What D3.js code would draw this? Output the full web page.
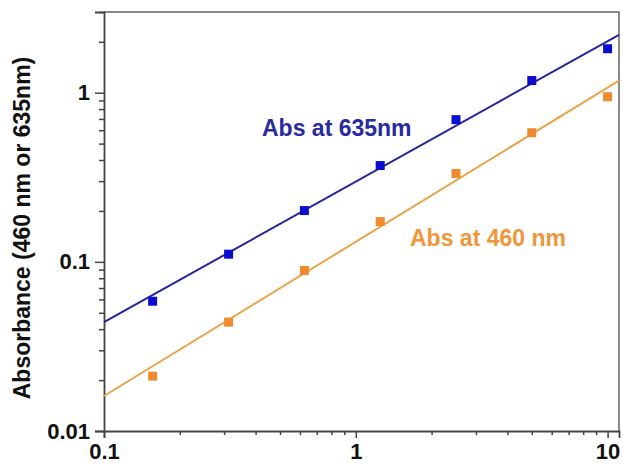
<!DOCTYPE html>
<html><head><meta charset="utf-8">
<script src="https://cdn.jsdelivr.net/npm/d3@7"></script>
<style>body{margin:0;background:#fff}svg{display:block}text{font-family:"Liberation Sans",Arial,sans-serif;font-weight:bold}</style>
</head><body><svg id="c" width="623" height="466"></svg>
<script>
const concentration = [0.156, 0.3125, 0.625, 1.25, 2.5, 5, 10];
const abs635 = [0.0585, 0.111, 0.201, 0.371, 0.693, 1.18, 1.82];
const abs460 = [0.0211, 0.044, 0.089, 0.173, 0.333, 0.58, 0.947];
const fit635 = [[0.1, 0.044], [11.1, 2.2]];
const fit460 = [[0.1, 0.0161], [11.1, 1.18]];
const xTickLabels = [0.1, 1, 10];
const yTickLabels = [0.01, 0.1, 1];

const svg = d3.select("#c");
const L = 104, R = 619, T = 12, B = 431;
const x = d3.scaleLog().domain([0.1, 11.1]).range([L, R]);
const y = d3.scaleLog().domain([0.01, 3.0]).range([B, T]);
const axisColor = "#444";

svg.append("path").attr("d", `M${L},${T}H${R}V${B}`).attr("fill","none").attr("stroke","#666").attr("stroke-width",1.5);

const xMinor = [];
for (let d = 0.1; d < 10; d *= 10) for (let k = 2; k <= 9; k++) xMinor.push(d * k);
const yMinor = [];
for (let d = 0.01; d < 3; d *= 10) for (let k = 2; k <= 9; k++) if (d * k <= 3) yMinor.push(d * k);

const xAxis = svg.append("g").attr("transform", `translate(0,${B})`)
  .call(d3.axisBottom(x).tickValues(xTickLabels).tickFormat(d => d3.format("~g")(d)).tickSize(7).tickPadding(3));
svg.append("g").attr("transform", `translate(0,${B})`)
  .call(d3.axisBottom(x).tickValues(xMinor).tickFormat("").tickSize(4))
  .call(g => g.select(".domain").remove());
const yAxis = svg.append("g").attr("transform", `translate(${L},0)`)
  .call(d3.axisLeft(y).tickValues(yTickLabels).tickFormat(d => d3.format("~g")(d)).tickSize(9).tickPadding(5));
svg.append("g").attr("transform", `translate(${L},0)`)
  .call(d3.axisLeft(y).tickValues(yMinor).tickFormat("").tickSize(5))
  .call(g => g.select(".domain").remove());

svg.selectAll(".domain").attr("stroke", axisColor).attr("stroke-width", 1.8);
svg.selectAll(".tick line").attr("stroke", axisColor).attr("stroke-width", 1.5);
svg.selectAll(".tick text").attr("fill", "#111").style("font-size", "22px").style("font-family", "Liberation Sans, Arial, sans-serif").style("font-weight", "bold");
xAxis.selectAll(".tick text").attr("dy", "0.8em");

svg.append("text").attr("transform", "translate(30,228) rotate(-90)")
  .attr("text-anchor", "middle").attr("fill", "#111").style("font-size", "23px")
  .text("Absorbance (460 nm or 635nm)");

const line = d3.line().x(d => x(d[0])).y(d => y(d[1]));
svg.append("path").datum(fit635).attr("d", line).attr("stroke", "#26269a").attr("stroke-width", 2).attr("fill", "none");
svg.append("path").datum(fit460).attr("d", line).attr("stroke", "#e8a448").attr("stroke-width", 2).attr("fill", "none");

const s = 9;
svg.selectAll(".p635").data(concentration).enter().append("rect")
  .attr("x", (d) => x(d) - s/2).attr("y", (d, i) => y(abs635[i]) - s/2)
  .attr("width", s).attr("height", s).attr("fill", "#0d0dd0");
svg.selectAll(".p460").data(concentration).enter().append("rect")
  .attr("x", (d) => x(d) - s/2).attr("y", (d, i) => y(abs460[i]) - s/2)
  .attr("width", s).attr("height", s).attr("fill", "#f08a30");

svg.append("text").attr("x", 262).attr("y", 136).attr("fill", "#2a2aa0").style("font-size", "23px").text("Abs at 635nm");
svg.append("text").attr("x", 410).attr("y", 246).attr("fill", "#f0963a").style("font-size", "23px").text("Abs at 460 nm");
</script></body></html>
